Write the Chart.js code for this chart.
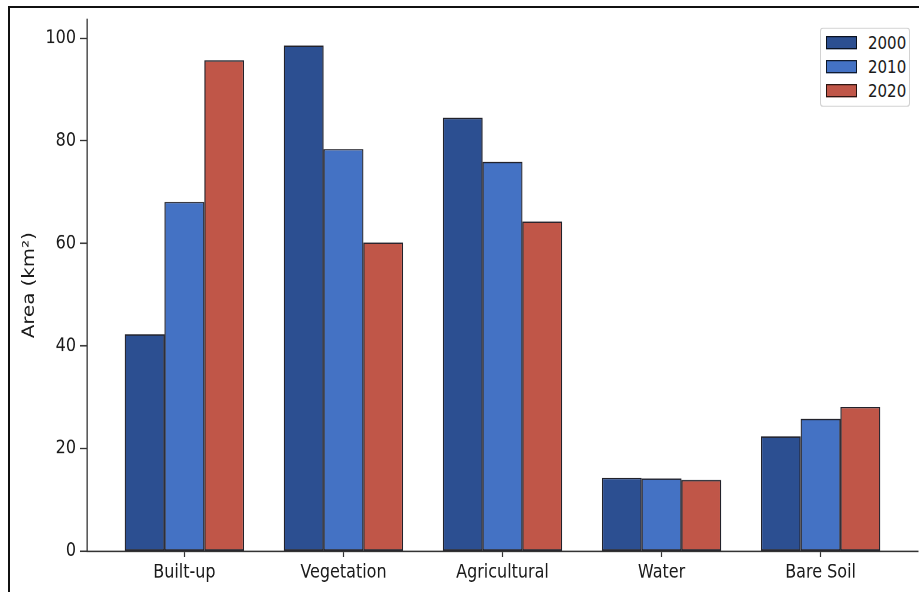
<!DOCTYPE html>
<html>
<head>
<meta charset="utf-8">
<script src="https://cdn.jsdelivr.net/npm/chart.js@4/dist/chart.umd.min.js"></script>
<style>
  html, body { margin: 0; padding: 0; background: #fff; overflow: hidden; }
  #page { position: relative; width: 919px; height: 592px; overflow: hidden; background: #fff; }
  #frame { position: absolute; left: 8px; top: 6px; width: 930px; height: 600px;
           border-left: 2px solid #111; border-top: 2px solid #111; }
  /* figure is drawn at 919x493 and stretched vertically to fill the page */
  #stage { position: absolute; left: 0; top: 0; width: 919px; height: 493px;
           transform: scaleY(1.2008); transform-origin: 0 0; }
  #chart { position: absolute; left: 0; top: 0; }
  #legend { position: absolute; left: 820px; top: 23px; width: 88px; height: 64px;
            border: 1px solid #d2d2d2; border-radius: 3px; background: #fff;
            font: 15px "DejaVu Sans", sans-serif; color: #1a1a1a; }
  .swatch { position: absolute; left: 5px; width: 29px; height: 9px; border: 1px solid rgba(0,0,0,0.8); }
  .lbl { position: absolute; left: 47px; line-height: 18px; height: 18px; }
</style>
</head>
<body>
<div id="page">
  <div id="frame"></div>
  <div id="stage">
    <canvas id="chart" width="919" height="493" style="width:919px;height:493px"></canvas>
    <div id="legend"></div>
  </div>
</div>
<script>
// Land cover area by class (km²) for three survey years
const categories = ['Built-up', 'Vegetation', 'Agricultural', 'Water', 'Bare Soil'];
const years = ['2000', '2010', '2020'];
const area2000 = [42.3, 98.6, 84.5, 14.3, 22.4];
const area2010 = [68.1, 78.4, 75.9, 14.2, 25.8];
const area2020 = [95.7, 60.2, 64.3, 13.9, 28.1];
const yTicks = [0, 20, 40, 60, 80, 100];
const colors = ['#2c4f91', '#4472c4', '#c05648'];

const series = [area2000, area2010, area2020];
const ink = '#1a1a1a';
const spine = '#333';

Chart.defaults.font.family = '"DejaVu Sans", sans-serif';

const datasets = years.map((yr, i) => ({
  label: yr,
  data: series[i].map((v, j) => ({ x: j, y: v })),
  backgroundColor: colors[i],
  borderColor: 'rgba(10,10,20,0.9)',
  borderWidth: 1.2,
  borderSkipped: false,
  categoryPercentage: 0.75,
  barPercentage: 1.0
}));

new Chart(document.getElementById('chart'), {
  type: 'bar',
  data: { datasets },
  options: {
    responsive: false,
    maintainAspectRatio: false,
    devicePixelRatio: 2,
    animation: false,
    layout: { padding: { top: 16, left: 0, right: 1, bottom: 0 } },
    plugins: { legend: { display: false }, tooltip: { enabled: false } },
    scales: {
      x: {
        type: 'linear',
        min: -0.6125,
        max: 4.6125,
        offset: false,
        afterBuildTicks: s => { s.ticks = categories.map((_, i) => ({ value: i })); },
        afterFit: s => { s.height = 34; },
        grid: { display: true, drawOnChartArea: false, drawTicks: true, offset: false,
                tickLength: 5, tickColor: spine, tickWidth: 1.2 },
        border: { display: true, color: spine, width: 1.3 },
        ticks: { autoSkip: false, maxRotation: 0, padding: 3, color: ink,
                 font: { size: 16 },
                 callback: v => categories[v] !== undefined ? categories[v] : '' }
      },
      y: {
        type: 'linear',
        min: 0,
        max: 103.7,
        afterBuildTicks: s => { s.ticks = yTicks.map(v => ({ value: v })); },
        afterFit: s => { s.width = 87; },
        grid: { display: true, drawOnChartArea: false, drawTicks: true,
                tickLength: 7, tickColor: spine, tickWidth: 1.2 },
        border: { display: true, color: spine, width: 1.3 },
        ticks: { padding: 4, color: ink, font: { size: 16 } },
        title: { display: true, text: 'Area (km²)', color: ink,
                 font: { size: 16.5 }, padding: { top: 20, bottom: 0 } }
      }
    }
  }
});

// legend built from the same year/colour lists
const legend = document.getElementById('legend');
years.forEach((yr, i) => {
  const cy = 11.5 + i * 20;
  const sw = document.createElement('div');
  sw.className = 'swatch';
  sw.style.top = (cy - 5.5) + 'px';
  sw.style.background = colors[i];
  const tx = document.createElement('div');
  tx.className = 'lbl';
  tx.style.top = (cy - 9) + 'px';
  tx.textContent = yr;
  legend.appendChild(sw);
  legend.appendChild(tx);
});
</script>
</body>
</html>
